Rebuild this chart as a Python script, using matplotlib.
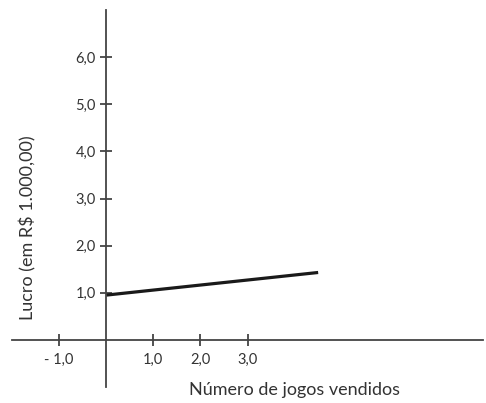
import matplotlib.pyplot as plt

# data
line_x = [0.0, 4.5]
line_y = [0.95, 1.43]
xticks = [-1.0, 1.0, 2.0, 3.0]
xtick_labels = ["- 1,0", "1,0", "2,0", "3,0"]
yticks = [1.0, 2.0, 3.0, 4.0, 5.0, 6.0]
ytick_labels = ["1,0", "2,0", "3,0", "4,0", "5,0", "6,0"]

plt.rcParams['font.family'] = ['Lato', 'DejaVu Sans']

fig = plt.figure(figsize=(4.86, 4.03), dpi=100)
ax = fig.add_axes([12 / 486, 16 / 403, 471 / 486, 377 / 403])
ax.set_xlim(-2.0, 8.0)
ax.set_ylim(-1.0, 7.0)

axcol = '#444444'
txtcol = '#333333'
for side in ['left', 'bottom']:
    ax.spines[side].set_position('zero')
    ax.spines[side].set_color(axcol)
    ax.spines[side].set_linewidth(1.3)
ax.spines['top'].set_visible(False)
ax.spines['right'].set_visible(False)

ax.plot(line_x, line_y, color='#1a1a1a', lw=2.3, solid_capstyle='butt')

ax.set_xticks(xticks)
ax.set_xticklabels(xtick_labels)
ax.set_yticks(yticks)
ax.set_yticklabels(ytick_labels)
ax.tick_params(direction='inout', length=9, width=1.3, color=axcol,
               labelsize=10.5, labelcolor=txtcol)
ax.tick_params(axis='y', pad=3)
ax.tick_params(axis='x', pad=5)

fig.text(294 / 486, 1 - 390 / 403, "Número de jogos vendidos", ha='center', va='center',
         fontsize=13, color=txtcol)
fig.text(28 / 486, 1 - 228 / 403, "Lucro (em R$ 1.000,00)", ha='center', va='center',
         rotation=90, fontsize=13, color=txtcol)

fig.savefig('out.png', dpi=100)
